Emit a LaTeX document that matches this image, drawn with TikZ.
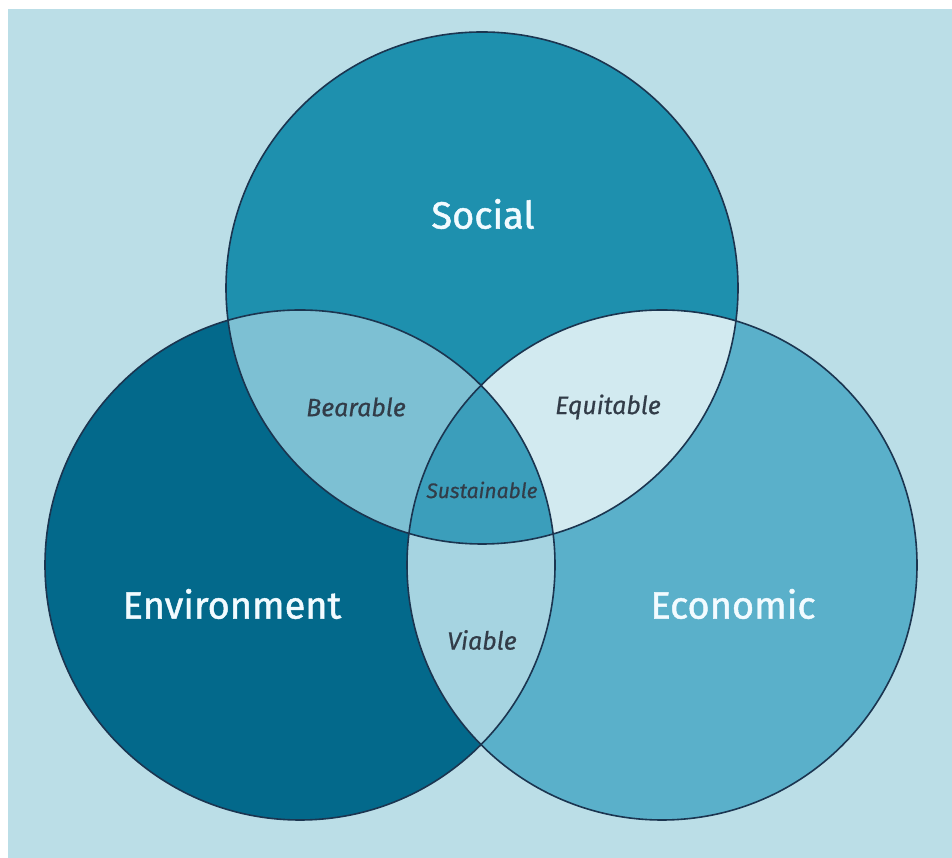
\documentclass[tikz,border=0pt]{standalone}
\usepackage{fontspec}
\setmainfont{Fira Sans}
\newfontfamily\bigfont[FakeBold=1.2]{Fira Sans}
\newfontfamily\labfont[FakeBold=0.6]{Fira Sans}
\definecolor{bgc}{HTML}{BBDEE7}
\definecolor{socc}{HTML}{1E90AE}
\definecolor{envc}{HTML}{03698B}
\definecolor{ecoc}{HTML}{5AB0CA}
\definecolor{bearc}{HTML}{7DC0D3}
\definecolor{equc}{HTML}{D2EAF0}
\definecolor{viac}{HTML}{A6D4E1}
\definecolor{susc}{HTML}{3B9EBB}
\definecolor{linec}{HTML}{1B3550}
\definecolor{bigtxt}{HTML}{F2FBFF}
\definecolor{smalltxt}{HTML}{323C48}
\begin{document}
\begin{tikzpicture}[x=1pt,y=1pt,
  bigl/.style={text=bigtxt,font=\bigfont\fontsize{38}{38}\selectfont},
  smalll/.style={text=smalltxt,font=\labfont\fontsize{25}{25}\selectfont\itshape},
  outl/.style={draw=linec,line width=1.6pt}]
\useasboundingbox (0,0) rectangle (952,858);
\fill[white] (0,0) rectangle (952,858);
\fill[bgc] (8,0) rectangle (952,849);
\coordinate (S) at (482,570);
\coordinate (E) at (300,293);
\coordinate (C) at (662,293);
\def\rs{256}
\def\re{255}
% base circles
\fill[socc] (S) circle (\rs);
\fill[envc] (E) circle (\re);
\fill[ecoc] (C) circle (\re);
% pairwise
\begin{scope}\clip (S) circle (\rs); \fill[bearc] (E) circle (\re);\end{scope}
\begin{scope}\clip (S) circle (\rs); \fill[equc] (C) circle (\re);\end{scope}
\begin{scope}\clip (E) circle (\re); \fill[viac] (C) circle (\re);\end{scope}
\begin{scope}\clip (S) circle (\rs); \clip (E) circle (\re); \fill[susc] (C) circle (\re);\end{scope}
% outlines
\draw[outl] (S) circle (\rs);
\draw[outl] (E) circle (\re);
\draw[outl] (C) circle (\re);
% labels
\node[bigl] (soc) at (483,644) {Social};
\node[bigl] (env) at (232,254) {Environment};
\node[bigl] (eco) at (733,254) {Economic};
\node[smalll] (bear) at (356,451) {Bearable};
\node[smalll] (equ) at (608,451) {Equitable};
\node[smalll,font=\labfont\fontsize{21}{21}\selectfont\itshape] (sus) at (482,368) {Sustainable};
\node[smalll] (via) at (482,218) {Viable};
\end{tikzpicture}
\end{document}
